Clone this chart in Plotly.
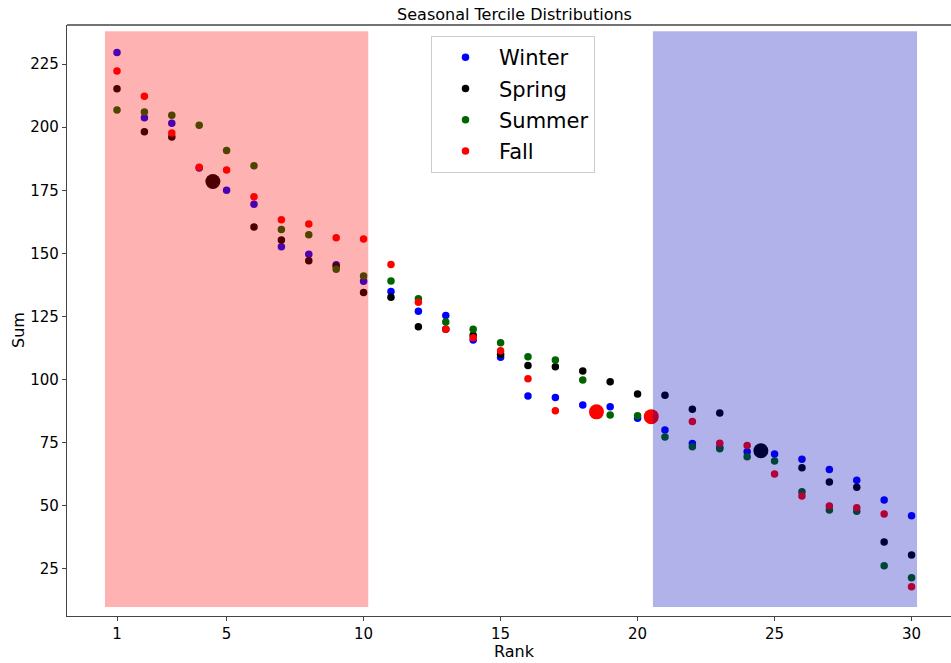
import plotly.graph_objects as go

# ---- data ----
winter_rank = list(range(1, 31))
winter_sum = [229.6, 203.7, 201.6, 183.8, 175.0, 169.5, 152.6, 149.7, 145.5, 139.0,
              134.9, 127.1, 125.4, 115.7, 108.8, 93.5, 92.9, 89.9, 89.2, 84.7,
              80.0, 74.7, 73.1, 71.4, 70.5, 68.4, 64.4, 60.1, 52.3, 46.0]
winter_count = [1] * 30

spring_rank = [1, 2, 3, 4.5, 6, 7, 8, 9, 10, 11, 12, 13, 14, 15, 16, 17, 18, 19, 20,
               21, 22, 23, 24.5, 26, 27, 28, 29, 30]
spring_sum = [215.2, 198.2, 196.1, 178.5, 160.5, 155.3, 147.1, 144.9, 134.5, 132.6,
              120.9, 119.9, 117.6, 110.0, 105.6, 105.1, 103.4, 99.1, 94.3, 93.8,
              88.2, 86.7, 71.8, 65.0, 59.4, 57.3, 35.6, 30.5]
spring_count = [1, 1, 1, 2, 1, 1, 1, 1, 1, 1, 1, 1, 1, 1, 1, 1, 1, 1, 1, 1, 1, 1, 2,
                1, 1, 1, 1, 1]

summer_rank = list(range(1, 31))
summer_sum = [206.8, 206.0, 204.7, 200.8, 190.8, 184.7, 159.5, 157.4, 143.7, 141.0,
              139.1, 132.0, 122.8, 119.9, 114.6, 109.0, 107.7, 99.8, 86.0, 85.7,
              77.2, 73.4, 72.6, 69.4, 67.7, 55.5, 48.3, 47.8, 26.2, 21.5]
summer_count = [1] * 30

fall_rank = [1, 2, 3, 4, 5, 6, 7, 8, 9, 10, 11, 12, 13, 14, 15, 16, 17, 18.5, 20.5,
             22, 23, 24, 25, 26, 27, 28, 29, 30]
fall_sum = [222.3, 212.3, 197.7, 184.1, 183.0, 172.4, 163.3, 161.6, 156.2, 155.7,
            145.6, 130.6, 119.9, 116.6, 111.4, 100.3, 87.6, 87.2, 85.3, 83.4,
            74.8, 73.9, 62.6, 53.9, 49.9, 49.2, 46.7, 17.9]
fall_count = [1] * 17 + [2, 2] + [1] * 9

seasons = ["Winter", "Spring", "Summer", "Fall"]
colors = {"Winter": "#0000ff", "Spring": "#000000", "Summer": "#006400", "Fall": "#ff0000"}
data = {
    "Winter": (winter_rank, winter_sum, winter_count),
    "Spring": (spring_rank, spring_sum, spring_count),
    "Summer": (summer_rank, summer_sum, summer_count),
    "Fall": (fall_rank, fall_sum, fall_count),
}

# tercile bands (rank ranges) and y extent
upper_band = (0.56, 10.17)
lower_band = (20.56, 30.2)
band_y = (9.9, 238.0)

x_ticks = [1, 5, 10, 15, 20, 25, 30]
y_ticks = [25, 50, 75, 100, 125, 150, 175, 200, 225]

W, H = 951, 663
PL, PR, PT, PB = 67, 951, 25, 616  # plot area in pixels

fig = go.Figure()
for s in seasons:
    r, v, c = data[s]
    xs = [a for a, n in zip(r, c) if n == 1]
    ys = [b for b, n in zip(v, c) if n == 1]
    fig.add_trace(go.Scatter(x=xs, y=ys, mode="markers", name=s, legendgroup=s,
                             marker=dict(color=colors[s], size=7.5, line=dict(width=0))))
for s in seasons:
    r, v, c = data[s]
    xs = [a for a, n in zip(r, c) if n > 1]
    ys = [b for b, n in zip(v, c) if n > 1]
    if xs:
        fig.add_trace(go.Scatter(x=xs, y=ys, mode="markers", showlegend=False,
                                 legendgroup=s,
                                 marker=dict(color=colors[s], size=15, line=dict(width=0))))

fig.add_shape(type="rect", x0=upper_band[0], x1=upper_band[1], y0=band_y[0], y1=band_y[1],
              xref="x", yref="y", layer="above", line=dict(width=0),
              fillcolor="rgba(255,0,0,0.3)")
fig.add_shape(type="rect", x0=lower_band[0], x1=lower_band[1], y0=band_y[0], y1=band_y[1],
              xref="x", yref="y", layer="above", line=dict(width=0),
              fillcolor="rgba(0,0,190,0.3)")
# top spine
fig.add_shape(type="line", xref="paper", yref="paper", x0=0, x1=1, y0=1, y1=1,
              line=dict(color="#444", width=1.3))

pw, ph = PR - PL, PB - PT


def px_x(x):
    return (x - PL) / pw


def px_y(y):
    return (PB - y) / ph


font = "DejaVu Sans"
fig.update_layout(
    width=W, height=H,
    margin=dict(l=PL, r=W - PR, t=PT, b=H - PB),
    plot_bgcolor="white", paper_bgcolor="white",
    font=dict(family=font, color="#000"),
    title=dict(text="Seasonal Tercile Distributions", x=px_x(514.5), xanchor="center",
               xref="paper", y=1 - 14 / H, yanchor="middle", yref="container",
               font=dict(size=16, family=font, color="#000")),
    xaxis=dict(range=[-0.825, 31.44], tickvals=x_ticks, showgrid=False, zeroline=False,
               showline=True, linecolor="#444", linewidth=1.3, ticks="outside",
               ticklen=4, tickcolor="#444", tickfont=dict(size=15, family=font)),
    yaxis=dict(range=[6.3, 240.5], tickvals=y_ticks, showgrid=False, zeroline=False,
               showline=True, linecolor="#444", linewidth=1.3, ticks="outside",
               ticklen=4, tickcolor="#444", tickfont=dict(size=15, family=font)),
    legend=dict(x=px_x(431), y=px_y(36), xanchor="left", yanchor="top",
                bordercolor="#cccccc", borderwidth=1, bgcolor="white",
                font=dict(size=21, family=font, color="#000"),
                tracegroupgap=1, itemwidth=57),
    annotations=[
        dict(text="Rank", x=px_x(514.5), y=px_y(651), xref="paper", yref="paper",
             showarrow=False, yanchor="middle", font=dict(size=16, family=font)),
        dict(text="Sum", x=px_x(18), y=px_y(330), xref="paper", yref="paper",
             showarrow=False, xanchor="center", textangle=-90,
             font=dict(size=16, family=font)),
    ],
)

fig.write_html("out.html", config={"displayModeBar": False},
               post_script="document.body.style.margin='0';")
